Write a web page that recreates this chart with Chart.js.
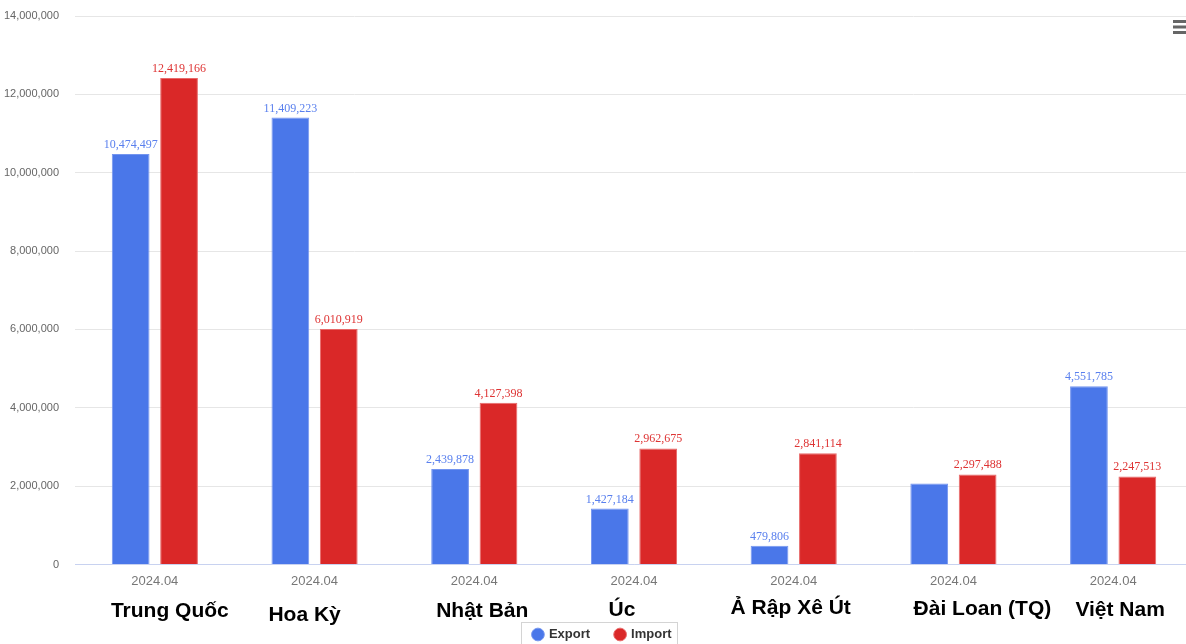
<!DOCTYPE html>
<html>
<head>
<meta charset="utf-8">
<script src="https://cdn.jsdelivr.net/npm/chart.js@4.4.1/dist/chart.umd.min.js"></script>
<style>
  html, body { margin: 0; padding: 0; background: #fff; overflow: hidden; }
  #wrap { width: 1205px; height: 644px; }
</style>
</head>
<body>
<div id="wrap"><canvas id="grafico"></canvas></div>
<script>
// dados
var periodos = ['2024.04', '2024.04', '2024.04', '2024.04', '2024.04', '2024.04', '2024.04'];
var paises = ['Trung Quốc', 'Hoa Kỳ', 'Nhật Bản', 'Úc', 'Ả Rập Xê Út', 'Đài Loan (TQ)', 'Việt Nam'];
var exportVals = [10474497, 11409223, 2439878, 1427184, 479806, 2070000, 4551785];
var importVals = [12419166, 6010919, 4127398, 2962675, 2841114, 2297488, 2247513];
var exportMostrar = [true, true, true, true, true, false, true];
var importMostrar = [true, true, true, true, true, true, true];
var yTicks = [0, 2000000, 4000000, 6000000, 8000000, 10000000, 12000000, 14000000];

// deslocamento dos nomes dos paises (layout)
var nomeDx = [15, -10, 8, -12, -3, 29, 7];
var nomeY = [617, 621, 617, 616, 614, 615, 616];

var rotulos = {
    id: 'rotulos',
    afterDatasetsDraw: function(chart) {
        var ctx = chart.ctx;
        var mostrar = [exportMostrar, importMostrar];
        var cores = ['#5a80ee', '#de3434'];
        ctx.save();
        ctx.font = '12px "Liberation Serif", "Times New Roman", serif';
        ctx.textAlign = 'center';
        ctx.textBaseline = 'alphabetic';
        chart.data.datasets.forEach(function(ds, d) {
            var meta = chart.getDatasetMeta(d);
            meta.data.forEach(function(bar, i) {
                if (!mostrar[d][i]) return;
                ctx.fillStyle = cores[d];
                ctx.fillText(ds.data[i].toLocaleString('en-US'), bar.x, bar.y - 6);
            });
        });
        ctx.restore();
    },
    afterDraw: function(chart) {
        var ctx = chart.ctx;
        var x = chart.scales.x;
        ctx.save();
        // nomes dos paises
        ctx.font = 'bold 21px "Liberation Sans", Arial, sans-serif';
        ctx.fillStyle = '#000';
        ctx.textAlign = 'center';
        ctx.textBaseline = 'alphabetic';
        paises.forEach(function(p, i) {
            ctx.fillText(p, x.getPixelForValue(i) + nomeDx[i], nomeY[i]);
        });
        // moldura da legenda
        var lg = chart.legend;
        if (lg && lg.legendHitBoxes && lg.legendHitBoxes.length) {
            var a = lg.legendHitBoxes[0];
            var b = lg.legendHitBoxes[lg.legendHitBoxes.length - 1];
            var esq = Math.round(a.left - 12.5);
            ctx.strokeStyle = '#d4d4d4';
            ctx.lineWidth = 1;
            ctx.strokeRect(esq + 0.5, Math.round(a.top + a.height / 2 - 13) + 0.5,
                Math.round(b.left + b.width + 5 - esq), 40);
        }
        // menu
        ctx.fillStyle = '#666';
        [20, 25.5, 31].forEach(function(yy) {
            ctx.fillRect(1173, yy, 13, 3);
        });
        ctx.restore();
    }
};

var ctx = document.getElementById('grafico').getContext('2d');
window.myBar = new Chart(ctx, {
    type: 'bar',
    data: {
        labels: periodos,
        datasets: [{
            label: 'Export',
            data: exportVals,
            backgroundColor: '#4a77e9',
            borderColor: '#7495ef',
            borderWidth: 1,
            categoryPercentage: 0.606,
            barPercentage: 0.78
        }, {
            label: 'Import',
            data: importVals,
            backgroundColor: '#da2828',
            borderColor: '#e86a6a',
            borderWidth: 1,
            categoryPercentage: 0.606,
            barPercentage: 0.78
        }]
    },
    options: {
        responsive: true,
        maintainAspectRatio: false,
        animation: false,
        layout: {
            padding: { top: 16, right: 0, left: 0, bottom: -7 }
        },
        plugins: {
            legend: {
                position: 'bottom',
                labels: {
                    usePointStyle: true,
                    pointStyle: 'circle',
                    boxWidth: 9,
                    boxHeight: 9,
                    padding: 25.5,
                    color: '#333',
                    font: { family: '"Liberation Sans", Arial, sans-serif', size: 13, weight: 'bold' }
                }
            },
            tooltip: { enabled: false },
            title: { display: false }
        },
        scales: {
            x: {
                grid: { display: false, drawTicks: false },
                border: { display: true, color: '#c8d2f0', width: 1 },
                ticks: {
                    color: '#777',
                    padding: 9,
                    font: { family: '"Liberation Sans", Arial, sans-serif', size: 13 }
                },
                afterFit: function(scale) { scale.height = 38; }
            },
            y: {
                min: 0,
                max: 14000000,
                grid: { color: '#e6e6e6', drawTicks: false },
                border: { display: false },
                afterBuildTicks: function(scale) {
                    scale.ticks = yTicks.map(function(v) { return { value: v }; });
                },
                ticks: {
                    color: '#666',
                    padding: 16,
                    font: { family: '"Liberation Sans", Arial, sans-serif', size: 11 },
                    callback: function(v) { return v.toLocaleString('en-US'); }
                },
                afterFit: function(scale) {
                    scale.width = 75;
                    scale.paddingTop = 0;
                    scale.paddingBottom = 0;
                }
            },
            // eixo vazio so para reservar espaco a direita
            y2: {
                position: 'right',
                grid: { display: false, drawTicks: false },
                border: { display: false },
                ticks: { display: false },
                afterFit: function(scale) { scale.width = 12; }
            }
        }
    },
    plugins: [rotulos]
});
</script>
</body>
</html>
